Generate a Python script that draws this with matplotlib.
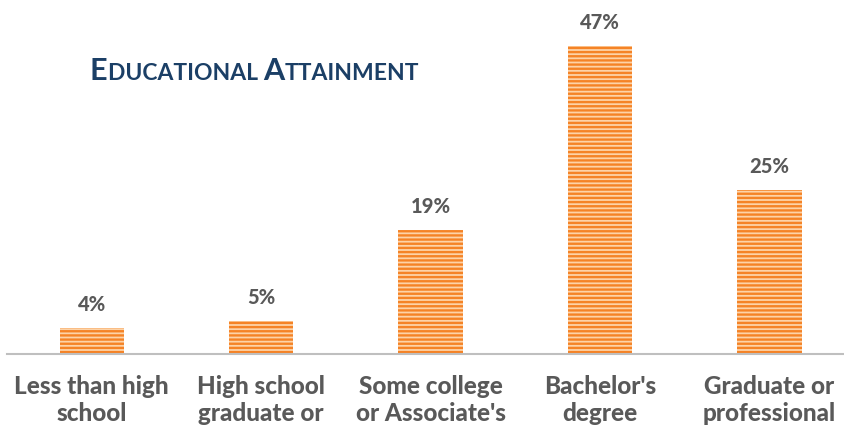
import matplotlib
matplotlib.use("Agg")
import matplotlib.pyplot as plt

categories = ["Less than high\nschool", "High school\ngraduate or", "Some college\nor Associate's",
              "Bachelor's\ndegree", "Graduate or\nprofessional"]
values = [4, 5, 19, 47, 25]
value_labels = ["4%", "5%", "19%", "47%", "25%"]

plt.rcParams['font.family'] = ['Lato', 'DejaVu Sans']
plt.rcParams['hatch.linewidth'] = 1.7

fig = plt.figure(figsize=(8.44, 4.28), dpi=100)
ax = fig.add_axes([7/844, 74/428, 1 - 7/844, 1 - 74/428 - 26.5/428])

x = list(range(len(categories)))
bars = ax.bar(x, values, width=0.38, color='#FDD3A8', edgecolor='#F58326',
              linewidth=0, hatch='----')

for xi, v, lab in zip(x, values, value_labels):
    ax.annotate(lab, (xi, v), xytext=(0, 10), textcoords='offset points',
                ha='center', va='bottom', fontsize=14.5, fontweight='black', color='#595959')

ax.set_xlim(-0.5, 4.44)
ax.set_ylim(0, 50)
ax.set_yticks([])
ax.set_xticks(x)
ax.set_xticklabels(categories, fontsize=17.5, fontweight='black', color='#595959', linespacing=1.2)
ax.tick_params(axis='x', length=0, pad=15)
for s in ['top', 'right', 'left']:
    ax.spines[s].set_visible(False)
ax.spines['bottom'].set_color('#BFBFBF')
ax.spines['bottom'].set_linewidth(1.5)

# small-caps title
title_color = '#1B3F66'
t1 = fig.text(90/844, 1 - 80/428, "E", fontsize=22, fontweight='bold', color=title_color,
              ha='left', va='baseline')
fig.canvas.draw()
r = fig.canvas.get_renderer()
def right_of(t):
    bb = t.get_window_extent(renderer=r)
    return bb.x1 / fig.bbox.width
t2 = fig.text(right_of(t1), 1 - 80/428, "DUCATIONAL ", fontsize=16.5, fontweight='bold',
              color=title_color, ha='left', va='baseline')
t3 = fig.text(right_of(t2), 1 - 80/428, "A", fontsize=22, fontweight='bold', color=title_color,
              ha='left', va='baseline')
t4 = fig.text(right_of(t3), 1 - 80/428, "TTAINMENT", fontsize=16.5, fontweight='bold',
              color=title_color, ha='left', va='baseline')

fig.savefig("out.png", dpi=100)
